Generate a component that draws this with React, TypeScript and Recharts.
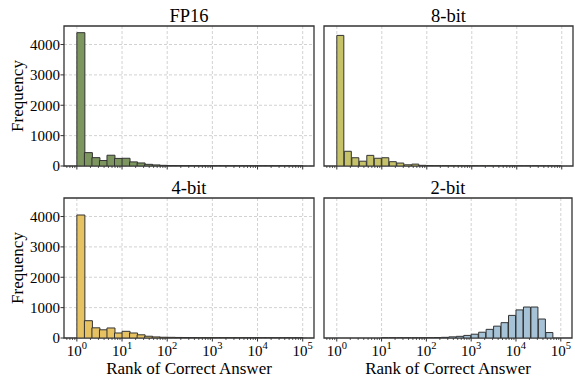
import { BarChart, Bar, XAxis, YAxis, CartesianGrid, ReferenceArea } from 'recharts';

const FONT = '"Liberation Serif", "Times New Roman", serif';

// log10 of the histogram bin centres: 30 bins of 1/6 decade between 10^0 and 10^5
const BIN_CENTERS = Array.from({ length: 30 }, (_, i) => (i + 0.5) / 6);

// counts per bin, one list per precision
const FP16_COUNTS = [4390, 440, 275, 180, 355, 250, 255, 135, 100, 55, 35, 22, 15, 12, 9, 8, 7, 6, 5, 5, 4, 4, 3, 3, 3, 2, 2, 2, 1, 1];
const INT8_COUNTS = [4300, 485, 272, 158, 350, 255, 272, 142, 97, 40, 62, 22, 14, 10, 8, 7, 6, 5, 5, 4, 4, 3, 3, 3, 2, 2, 2, 1, 1, 1];
const INT4_COUNTS = [4050, 570, 335, 270, 330, 165, 220, 165, 105, 58, 35, 25, 22, 18, 15, 13, 10, 9, 8, 7, 6, 5, 5, 4, 4, 3, 3, 2, 2, 1];
const INT2_COUNTS = [0, 0, 0, 0, 0, 0, 1, 1, 1, 1, 2, 3, 8, 14, 22, 38, 55, 85, 125, 190, 285, 390, 505, 745, 925, 1020, 1020, 625, 180, 0];

const PANEL_TITLES = ['FP16', '8-bit', '4-bit', '2-bit'];
const PANEL_COLORS = ['#7d9660', '#c6c26a', '#e6c262', '#a5c2d6'];

const MAJOR_TICKS = [0, 1, 2, 3, 4, 5];
const MINOR_TICKS = [
  Math.log10(0.6), Math.log10(0.7), Math.log10(0.8), Math.log10(0.9),
  ...[0, 1, 2, 3, 4].flatMap((d) => [2, 3, 4, 5, 6, 7, 8, 9].map((k) => d + Math.log10(k))),
];
const Y_TICKS = [0, 1000, 2000, 3000, 4000];
const X_DOMAIN: [number, number] = [-0.285, 5.25];
const Y_MAX = 4610;

function LogTick({ x, y, payload, showLabel }: any) {
  const v = payload.value;
  const major = Math.abs(v - Math.round(v)) < 1e-9;
  return (
    <g>
      <line x1={x} x2={x} y1={y} y2={y + (major ? 3.5 : 2)} stroke="#333" strokeWidth={major ? 1 : 0.8} />
      {major && showLabel && (
        <text x={x} y={y + 17.8} textAnchor="middle" fontFamily={FONT} fill="#000">
          <tspan fontSize={15}>10</tspan>
          <tspan fontSize={10.5} dy={-6.5}>{Math.round(v)}</tspan>
        </text>
      )}
    </g>
  );
}

interface PanelProps {
  counts: number[];
  color: string;
  left: number;
  top: number;
  width: number;
  height: number;
  margin: { top: number; right: number; bottom: number; left: number };
  yAxisWidth: number;
  xAxisHeight: number;
  showYLabels: boolean;
  showXLabels: boolean;
}

function HistPanel({ counts, color, left, top, width, height, margin, yAxisWidth, xAxisHeight, showYLabels, showXLabels }: PanelProps) {
  const data = BIN_CENTERS.map((x, i) => ({ x, count: counts[i] }));
  return (
    <div style={{ position: 'absolute', left, top }}>
      <BarChart width={width} height={height} data={data} margin={margin} barCategoryGap={0} barGap={0}>
        <CartesianGrid stroke="#d2d2d2" strokeDasharray="3 2" verticalValues={MAJOR_TICKS} horizontalValues={Y_TICKS} />
        <XAxis
          dataKey="x"
          type="number"
          domain={X_DOMAIN}
          allowDataOverflow
          ticks={[...MAJOR_TICKS, ...MINOR_TICKS]}
          interval={0}
          height={xAxisHeight}
          tickSize={0}
          tickMargin={0}
          tickLine={false}
          axisLine={false}
          tick={(p: any) => <LogTick {...p} showLabel={showXLabels} />}
        />
        <YAxis
          type="number"
          domain={[0, Y_MAX]}
          allowDataOverflow
          ticks={Y_TICKS}
          interval={0}
          width={yAxisWidth}
          axisLine={false}
          tickLine={showYLabels ? { stroke: '#333' } : false}
          tickSize={showYLabels ? 3.5 : 0}
          tickMargin={0.5}
          tick={showYLabels ? { fontSize: 15, fill: '#000', fontFamily: FONT } : false}
        />
        <Bar dataKey="count" fill={color} stroke="#333" strokeWidth={1} isAnimationActive={false} />
        <ReferenceArea x1={X_DOMAIN[0]} x2={X_DOMAIN[1]} y1={0} y2={Y_MAX} fill="none" stroke="#333" strokeWidth={1.3} />
      </BarChart>
    </div>
  );
}

export default function App() {
  const titleStyle = { fontFamily: FONT, fontSize: 18.5, fill: '#000' } as const;
  const labelStyle = { fontFamily: FONT, fontSize: 17, fill: '#000' } as const;
  return (
    <div style={{ position: 'fixed', left: 0, top: 0, width: 575, height: 378, background: '#fff', overflow: 'hidden' }}>
      <HistPanel counts={FP16_COUNTS} color={PANEL_COLORS[0]} left={0} top={0} width={320} height={180}
        margin={{ top: 26, right: 6, bottom: 0, left: 0 }} yAxisWidth={64} xAxisHeight={14} showYLabels showXLabels={false} />
      <HistPanel counts={INT8_COUNTS} color={PANEL_COLORS[1]} left={320} top={0} width={255} height={180}
        margin={{ top: 26, right: 2, bottom: 0, left: 4 }} yAxisWidth={0} xAxisHeight={14} showYLabels={false} showXLabels={false} />
      <HistPanel counts={INT4_COUNTS} color={PANEL_COLORS[2]} left={0} top={180} width={320} height={198}
        margin={{ top: 18, right: 6, bottom: 0, left: 0 }} yAxisWidth={64} xAxisHeight={40} showYLabels showXLabels />
      <HistPanel counts={INT2_COUNTS} color={PANEL_COLORS[3]} left={320} top={180} width={255} height={198}
        margin={{ top: 18, right: 3, bottom: 0, left: 4 }} yAxisWidth={0} xAxisHeight={40} showYLabels={false} showXLabels />

      <svg width={575} height={378} style={{ position: 'absolute', left: 0, top: 0, pointerEvents: 'none' }}>
        <text x={189} y={22.3} textAnchor="middle" style={titleStyle}>{PANEL_TITLES[0]}</text>
        <text x={448.5} y={22.3} textAnchor="middle" style={titleStyle}>{PANEL_TITLES[1]}</text>
        <text x={189} y={194} textAnchor="middle" style={titleStyle}>{PANEL_TITLES[2]}</text>
        <text x={448} y={194} textAnchor="middle" style={titleStyle}>{PANEL_TITLES[3]}</text>
        <text transform="translate(22.5,96) rotate(-90)" textAnchor="middle" style={labelStyle}>Frequency</text>
        <text transform="translate(22.5,268) rotate(-90)" textAnchor="middle" style={labelStyle}>Frequency</text>
        <text x={189} y={373.5} textAnchor="middle" style={labelStyle}>Rank of Correct Answer</text>
        <text x={448} y={373.5} textAnchor="middle" style={labelStyle}>Rank of Correct Answer</text>
      </svg>
    </div>
  );
}
